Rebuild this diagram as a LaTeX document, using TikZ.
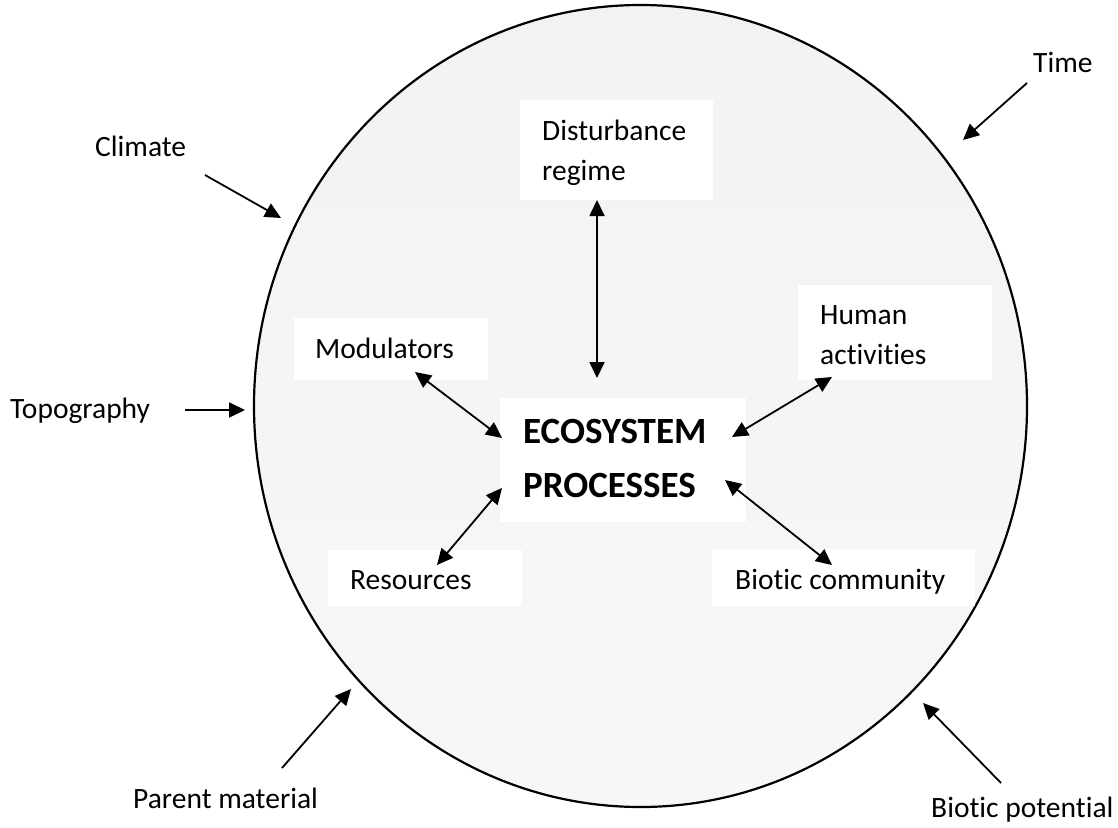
\documentclass[tikz,border=0pt]{standalone}
\usepackage{fontspec}
\setmainfont[Ligatures=NoCommon]{Carlito}
\usetikzlibrary{arrows.meta,shapes.geometric}
\begin{document}
\begin{tikzpicture}[x=1pt,y=-1pt,
  lbl/.style={anchor=base west,inner sep=0pt,font=\fontsize{29.5}{40}\selectfont,align=left},
  boldlbl/.style={anchor=base west,inner sep=0pt,font=\fontsize{37}{54}\bfseries,align=left},
  wbox/.style={fill=white,draw=none,inner sep=0pt},
  arr/.style={line width=1.8pt,-{Triangle[length=16pt,width=15pt]}},
  darr/.style={line width=1.8pt,{Triangle[length=16pt,width=15pt]}-{Triangle[length=16pt,width=15pt]}}]
\useasboundingbox (0,0) rectangle (1118,827);
% environment
\node[ellipse,draw,line width=2.2pt,top color=black!5,bottom color=black!3,
  minimum width=773pt,minimum height=802pt,inner sep=0pt] (env) at (640.5,406) {};
% white boxes
\node[wbox,minimum width=193pt,minimum height=100pt] (distbox) at (616.5,150) {};
\node[wbox,minimum width=194pt,minimum height=62pt] (modbox) at (391,349) {};
\node[wbox,minimum width=194pt,minimum height=95pt] (humbox) at (895,332.5) {};
\node[wbox,minimum width=246pt,minimum height=124pt] (ecobox) at (623,460) {};
\node[wbox,minimum width=194pt,minimum height=56pt] (resbox) at (425,578) {};
\node[wbox,minimum width=263pt,minimum height=57pt] (biobox) at (843.5,577) {};
% texts (base = last line)
\node[lbl] (dist) at (542,180) {Disturbance\\regime};
\node[lbl] (mod) at (315,358) {Modulators};
\node[lbl] (hum) at (820,364) {Human\\activities};
\node[boldlbl] (eco) at (523,497) {ECOSYSTEM\\PROCESSES};
\node[lbl] (res) at (350,589) {Resources};
\node[lbl] (bio) at (735,589) {Biotic community};
\node[lbl] (clim) at (95,156) {Climate};
\node[lbl] (topo) at (10,418) {Topography};
\node[lbl] (time) at (1033,72) {Time};
\node[lbl] (par) at (133,808) {Parent material};
\node[lbl] (biop) at (931,817) {Biotic potential};
% arrow end points
\coordinate (d1) at (597,200); \coordinate (d2) at (597,378);
\coordinate (m1) at (415,372); \coordinate (m2) at (502,438);
\coordinate (h1) at (832,377); \coordinate (h2) at (732,437);
\coordinate (r1) at (502,488); \coordinate (r2) at (437,565);
\coordinate (b1) at (725,480); \coordinate (b2) at (832,565);
\coordinate (c1) at (205,175); \coordinate (c2) at (281,218);
\coordinate (t1) at (185,410); \coordinate (t2) at (245,410);
\coordinate (ti1) at (1027,83); \coordinate (ti2) at (963,140);
\coordinate (p1) at (282,768); \coordinate (p2) at (351,689);
\coordinate (bp1) at (1001,783); \coordinate (bp2) at (923,703);
% double arrows
\draw[darr] (d1) -- (d2);
\draw[darr] (m1) -- (m2);
\draw[darr] (h1) -- (h2);
\draw[darr] (r1) -- (r2);
\draw[darr] (b1) -- (b2);
% external factors
\draw[arr] (c1) -- (c2);
\draw[arr] (t1) -- (t2);
\draw[arr] (ti1) -- (ti2);
\draw[arr] (p1) -- (p2);
\draw[arr] (bp1) -- (bp2);
\end{tikzpicture}
\end{document}
